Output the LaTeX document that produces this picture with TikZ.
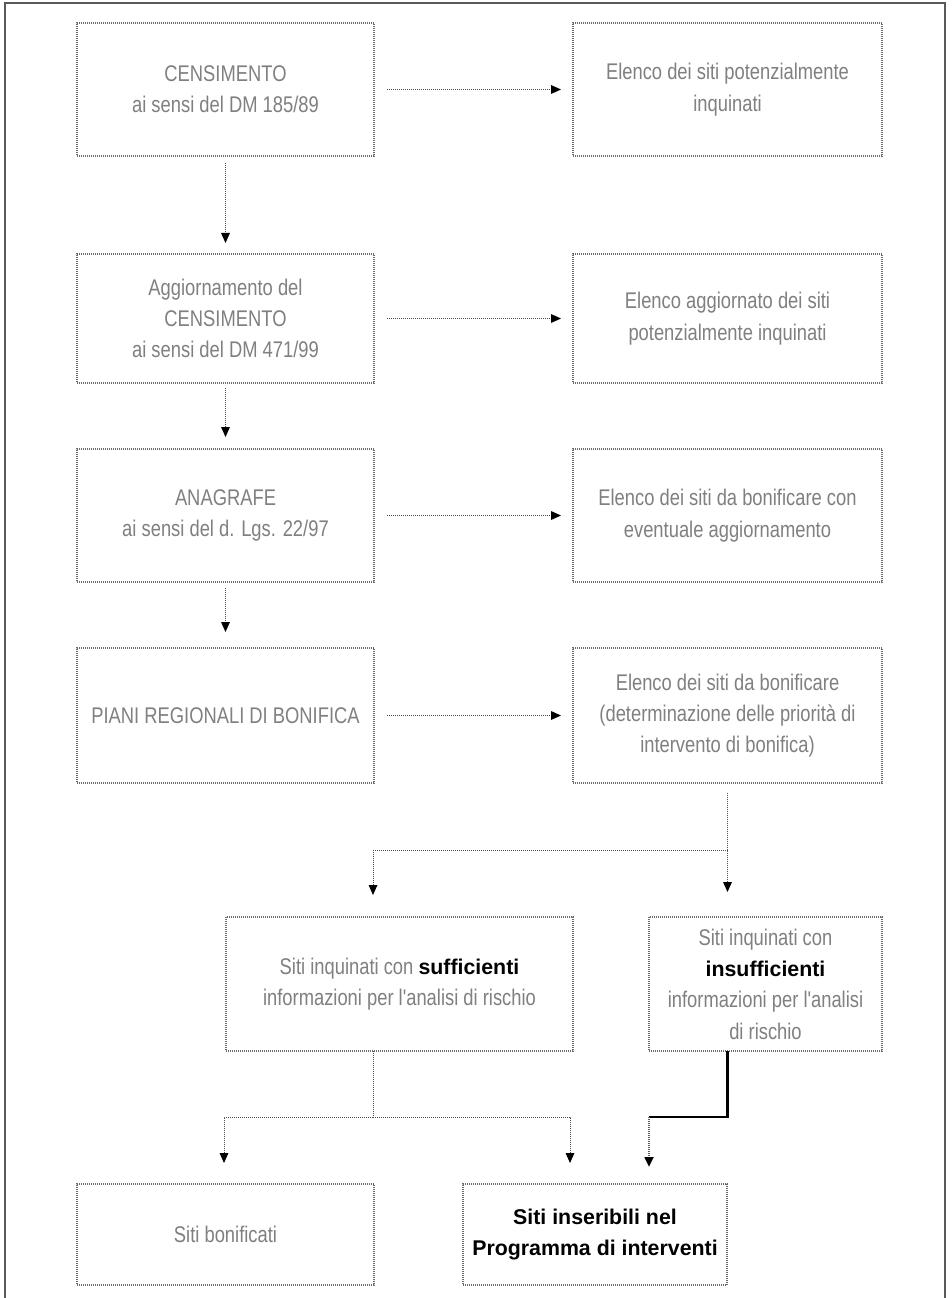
\documentclass[tikz,border=0pt]{standalone}
\usepackage{fontspec}
\setmainfont{Liberation Sans}
\newfontfamily\narrowf[FakeStretch=0.81]{Liberation Sans}
\usetikzlibrary{arrows.meta}
\definecolor{txtgray}{gray}{0.5}
\definecolor{bordergray}{gray}{0.42}
\definecolor{linegray}{gray}{0.3}
\definecolor{framegray}{gray}{0.35}
\newcommand{\bx}[1]{{\normalfont\fontsize{16}{23.25}\selectfont\bfseries\color{black}#1}}
\tikzset{
  box/.style={draw=bordergray, line width=0.9pt, dash pattern=on 0.75pt off 0.75pt,
    inner sep=2pt, outer sep=0pt, align=center, text=txtgray,
    font=\narrowf\fontsize{17}{23.5}\selectfont},
  wh/.style 2 args={minimum width=#1*0.75pt, minimum height=#2*0.75pt},
  tip/.style={-{Triangle[length=7.5pt,width=6.5pt,color=black]}},
  conn/.style={draw=linegray, line width=0.75pt, dash pattern=on 0.75pt off 0.75pt, tip},
  plain/.style={draw=linegray, line width=0.75pt, dash pattern=on 0.75pt off 0.75pt},
  heavy/.style={draw=black, line width=1.6pt},
  heavydot/.style={draw=gray!70!black, line width=2.2pt, dash pattern=on 0.75pt off 0.75pt, tip},
  hshort/.style={shorten <=9.75pt, shorten >=9pt}
}
\begin{document}
\begin{tikzpicture}[x=0.75pt,y=-0.75pt]
\useasboundingbox (0,0) rectangle (951,1298);
\fill[white] (0,0) rectangle (951,1298);
\draw[framegray, line width=1.5pt] (5,3) rectangle (945,1340);

% left column
\node[box, wh={297}{133}] (b1) at (225.5,89.5) {CENSIMENTO\\ai sensi del DM 185/89};
\node[box, wh={297}{129}] (b2) at (225.5,318.5) {Aggiornamento del\\CENSIMENTO\\ai sensi del DM 471/99};
\node[box, wh={297}{133}] (b3) at (225.5,515.5) {ANAGRAFE\\ai sensi del d. Lgs. 22/97};
\node[box, wh={297}{135}] (b4) at (225.5,715.5) {PIANI REGIONALI DI BONIFICA};

% right column
\node[box, wh={309}{133}] (r1) at (727.5,89.5) {Elenco dei siti potenzialmente\\inquinati};
\node[box, wh={309}{129}] (r2) at (727.5,318.5) {Elenco aggiornato dei siti\\potenzialmente inquinati};
\node[box, wh={309}{133}] (r3) at (727.5,515.5) {Elenco dei siti da bonificare con\\eventuale aggiornamento};
\node[box, wh={309}{135}] (r4) at (727.5,715.5) {Elenco dei siti da bonificare\\(determinazione delle priorità di\\intervento di bonifica)};

% middle row
\node[box, wh={347}{134}] (suf) at (399.5,984) {Siti inquinati con \bx{sufficienti}\\informazioni per l'analisi di rischio};
\node[box, wh={233}{134}] (ins) at (765.5,984) {Siti inquinati con\\\bx{insufficienti}\\informazioni per l'analisi\\di rischio};

% bottom row
\node[box, wh={297}{101}] (bon) at (225.5,1234.5) {Siti bonificati};
\node[box, wh={264}{101}] (prog) at (595,1234.5) {\bx{Siti inseribili nel}\\\bx{Programma di interventi}};

% horizontal arrows
\draw[conn, hshort] (b1) -- (r1);
\draw[conn, hshort] (b2) -- (r2);
\draw[conn, hshort] (b3) -- (r3);
\draw[conn, hshort] (b4) -- (r4);

% vertical arrows
\draw[conn, shorten <=5.25pt, shorten >=8.25pt] (b1) -- (b2);
\draw[conn, shorten <=3.75pt, shorten >=9pt] (b2) -- (b3);
\draw[conn, shorten <=4.5pt, shorten >=12pt] (b3) -- (b4);

% split below r4
\coordinate (j1) at (727.5,850);
\coordinate (tA) at (727.5,892);
\coordinate (tB) at (373,895);
\draw[conn, shorten <=7.5pt] (r4.south) -- (tA);
\draw[conn] (j1) -| (tB);

% split below suf
\coordinate (j2) at (373,1117);
\coordinate (tL) at (224,1163);
\coordinate (tR) at (570,1163);
\draw[plain] (suf.south -| j2) -- (j2);
\draw[conn] (j2) -| (tL);
\draw[conn] (j2) -| (tR);

% heavy connector from ins
\coordinate (j3) at (727.5,1117);
\coordinate (j4) at (649,1117);
\coordinate (tH) at (649,1167);
\draw[heavy] (ins.south -| j3) -- (j3) -- (j4);
\draw[heavydot] (j4) -- (tH);
\end{tikzpicture}
\end{document}
